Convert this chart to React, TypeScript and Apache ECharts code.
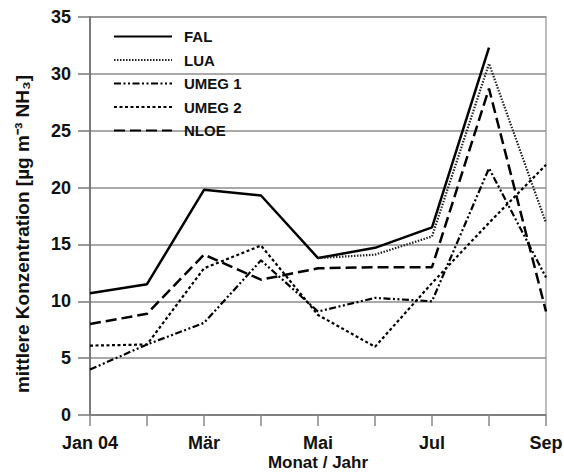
import React, { useEffect, useRef } from "react";
import * as echarts from "echarts";

const months = ["Jan 04", "Feb", "Mär", "Apr", "Mai", "Jun", "Jul", "Aug", "Sep"];
const seriesNames = ["FAL", "LUA", "UMEG 1", "UMEG 2", "NLOE"];
const fal = [10.7, 11.5, 19.8, 19.3, 13.8, 14.7, 16.5, 32.3, null];
const lua = [null, null, null, null, 13.8, 14.1, 15.7, 30.9, 16.9];
const umeg1 = [4.0, 6.2, 8.1, 13.6, 9.1, 10.3, 10.0, 21.7, 12.1];
const umeg2 = [6.1, 6.2, 12.9, 14.9, 8.8, 6.0, 11.6, 16.9, 22.0];
const nloe = [8.0, 8.9, 14.1, 11.9, 12.9, 13.0, 13.0, 28.7, 9.1];

const FONT = "'Liberation Sans', Arial, sans-serif";

export default function App() {
  const ref = useRef<HTMLDivElement>(null);
  useEffect(() => {
    if (!ref.current) return;
    const chart = echarts.init(ref.current, null, { renderer: "svg" });
    const mk = (name: string, data: (number | null)[], type: any, width: number, color = "#000") => ({
      name,
      type: "line",
      data,
      symbol: "none",
      connectNulls: false,
      lineStyle: { color, width, type, cap: "butt" },
      itemStyle: { color },
    });
    chart.setOption({
      animation: false,
      backgroundColor: "#fff",
      textStyle: { fontFamily: FONT },
      grid: {
        left: 90,
        right: 18,
        top: 17,
        bottom: 58,
        containLabel: false,
        outerBoundsMode: "none",
        show: true,
        borderColor: "#a8a8a8",
        borderWidth: 1.5,
      },
      legend: {
        orient: "vertical",
        left: 108,
        top: 24,
        itemWidth: 58,
        itemHeight: 14,
        itemGap: 8.5,
        data: seriesNames,
        itemStyle: { opacity: 0 },
        textStyle: {
          fontFamily: FONT,
          fontSize: 15,
          fontWeight: "bold",
          color: "#111",
          padding: [0, 0, 0, 7],
        },
      },
      xAxis: {
        type: "category",
        data: months,
        boundaryGap: false,
        name: "Monat / Jahr",
        nameLocation: "middle",
        nameGap: 38,
        nameMoveOverlap: false,
        nameTextStyle: { fontFamily: FONT, fontSize: 17, lineHeight: 18, fontWeight: "bold", color: "#111" },
        axisLine: { lineStyle: { color: "#777", width: 1.5 } },
        axisTick: { show: true, inside: false, length: 11, interval: 0, lineStyle: { color: "#888", width: 1.5 } },
        axisLabel: {
          interval: 1,
          margin: 19,
          fontFamily: FONT,
          fontSize: 18,
          fontWeight: "bold",
          color: "#111",
        },
        splitLine: { show: false },
      },
      yAxis: {
        type: "value",
        min: 0,
        max: 35,
        interval: 5,
        name: "mittlere Konzentration [µg m⁻³ NH₃]",
        nameLocation: "middle",
        nameGap: 58,
        nameRotate: 90,
        nameMoveOverlap: false,
        nameTextStyle: {
          fontFamily: FONT,
          fontSize: 19,
          fontWeight: "bold",
          color: "#111",
          padding: [0, 36, 0, 0],
        },
        axisLine: { show: true, lineStyle: { color: "#666", width: 1.5 } },
        axisTick: { show: true, inside: false, length: 12, lineStyle: { color: "#777", width: 1.5 } },
        axisLabel: {
          margin: 19,
          fontFamily: FONT,
          fontSize: 18,
          fontWeight: "bold",
          color: "#111",
        },
        splitLine: { show: true, lineStyle: { color: "#8c8c8c", width: 1.5 } },
      },
      series: [
        mk("FAL", fal, "solid", 2.5),
        mk("LUA", lua, [1.5, 1.5], 2.2, "#222"),
        mk("UMEG 1", umeg1, [7, 2.5, 2, 2.5, 2, 2.5], 2.2),
        mk("UMEG 2", umeg2, [3, 2.5], 2.2),
        mk("NLOE", nloe, [11, 5], 2.5),
      ],
    });
    return () => chart.dispose();
  }, []);
  return (
    <div
      ref={ref}
      style={{ position: "fixed", left: 0, top: 0, width: 564, height: 473, background: "#fff" }}
    />
  );
}
